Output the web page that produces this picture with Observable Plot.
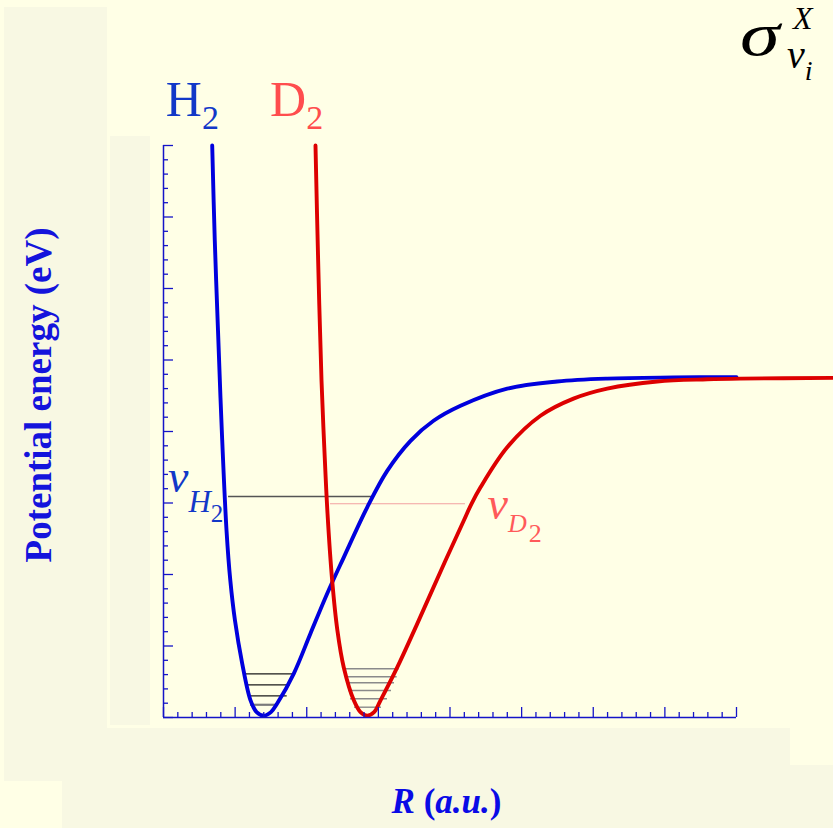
<!DOCTYPE html>
<html><head><meta charset="utf-8">
<script src="https://cdn.jsdelivr.net/npm/d3@7"></script>
<script src="https://cdn.jsdelivr.net/npm/@observablehq/plot@0.6"></script>
<style>
html,body{margin:0;padding:0;background:#FFFFE6;}
#wrap{position:relative;width:833px;height:828px;overflow:hidden;background:#FFFFE6;}
.panel{position:absolute;background:#F8F8E3;}
#chart{position:absolute;left:0;top:0;}
</style></head><body>
<div id="wrap">
<div class="panel" style="left:4px;top:7px;width:103px;height:774px"></div>
<div class="panel" style="left:110px;top:136px;width:40px;height:589px"></div>
<div class="panel" style="left:106px;top:728px;width:684px;height:37px"></div>
<div class="panel" style="left:62px;top:765px;width:771px;height:63px"></div>
<div id="chart"></div>
</div>
<script>
// H2 potential curve (R in a.u., E in eV)
const h2R = [0.680, 0.716, 0.761, 0.814, 0.880, 0.933, 0.998, 1.099, 1.215, 1.30, 1.40, 1.50, 1.587, 1.819, 2.052, 2.286, 2.517, 2.844, 3.123, 3.449, 3.770, 4.147, 4.799, 5.497, 6.195, 7.12, 8.0];
const h2E = [8.0, 6.671, 5.41, 4.014, 2.615, 1.916, 1.357, 0.755, 0.24, 0.075, 0.025, 0.075, 0.196, 0.615, 1.175, 1.734, 2.24, 2.94, 3.45, 3.87, 4.15, 4.36, 4.60, 4.70, 4.74, 4.755, 4.76];
// D2 potential curve
const d2R = [2.122, 2.159, 2.206, 2.245, 2.290, 2.355, 2.428, 2.517, 2.657, 2.75, 2.844, 2.94, 3.030, 3.263, 3.542, 3.937, 4.193, 4.300, 4.426, 4.799, 5.263, 5.724, 6.195, 6.893, 7.591, 8.056, 9.354];
const d2E = [8.0, 6.392, 4.713, 3.776, 2.853, 1.916, 1.217, 0.70, 0.24, 0.075, 0.025, 0.075, 0.24, 0.70, 1.31, 2.196, 2.755, 2.989, 3.22, 3.78, 4.22, 4.46, 4.60, 4.70, 4.73, 4.74, 4.75];
// vibrational levels
const h2LevelE  = [0.611, 0.457, 0.303, 0.178];
const h2LevelR1 = [1.135, 1.169, 1.191, 1.215];
const h2LevelR2 = [1.843, 1.773, 1.727, 1.587];
const d2LevelE  = [0.681, 0.569, 0.485, 0.378, 0.262, 0.144];
const d2LevelR1 = [2.541, 2.555, 2.569, 2.583, 2.611, 2.667];
const d2LevelR2 = [3.290, 3.262, 3.225, 3.183, 3.127, 3.044];
// highlighted levels v_H2 and v_D2
const vH2 = {E: 3.091, R1: 0.908, R2: 2.932};
const vD2 = {E: 2.989, R1: 2.332, R2: 4.216};
// axis ticks
const xMajor = [0, 1, 2, 3, 4, 5, 6, 7, 8];
const yMajor = [0, 1, 2, 3, 4, 5, 6, 7, 8];
const xMinor = xMajor.slice(0, -1).flatMap(v => [0.2, 0.4, 0.6, 0.8].map(f => v + f));
const yMinor = yMajor.slice(0, -1).flatMap(v => [0.2, 0.4, 0.6, 0.8].map(f => v + f));

const h2 = h2R.map((r, i) => ({R: r, E: h2E[i]}));
const d2 = d2R.map((r, i) => ({R: r, E: d2E[i]}));
const h2Lv = h2LevelE.map((e, i) => ({E: e, R1: h2LevelR1[i], R2: h2LevelR2[i], top: i < 3}));
const d2Lv = d2LevelE.map((e, i) => ({E: e, R1: d2LevelR1[i], R2: d2LevelR2[i]}));

const axisColor = "#1414c8";
const serif = "'Liberation Serif', 'Times New Roman', serif";

const chart = Plot.plot({
  width: 833, height: 828,
  marginLeft: 163, marginRight: 97, marginTop: 145, marginBottom: 111,
  style: {background: "transparent", fontFamily: serif},
  x: {domain: [0, 8]},
  y: {domain: [0, 8]},
  marks: [
    Plot.ruleY(h2Lv.filter(d => d.top), {y: "E", x1: "R1", x2: "R2", stroke: "#1a1a1a", strokeWidth: 1.3}),
    Plot.ruleY(h2Lv.filter(d => !d.top), {y: "E", x1: "R1", x2: "R2", stroke: "#7a7a7a", strokeWidth: 2.2}),
    Plot.ruleY(d2Lv, {y: "E", x1: "R1", x2: "R2", stroke: "#8a8a8a", strokeWidth: 1.4}),
    Plot.ruleY([vH2], {y: "E", x1: "R1", x2: "R2", stroke: "#555555", strokeWidth: 1.3}),
    Plot.ruleY([vD2], {y: "E", x1: "R1", x2: "R2", stroke: "#f2a0a0", strokeWidth: 1.1}),
    Plot.line(h2, {x: "R", y: "E", stroke: "#0000dd", strokeWidth: 3.9, curve: "catmull-rom"}),
    Plot.line(d2, {x: "R", y: "E", stroke: "#dd0000", strokeWidth: 3.9, curve: "catmull-rom"}),
    Plot.axisX(xMajor, {anchor: "bottom", tickSize: 10, dy: -10, stroke: axisColor, strokeWidth: 1.3, tickFormat: () => "", label: null}),
    Plot.axisX(xMinor, {anchor: "bottom", tickSize: 5, dy: -5, stroke: axisColor, strokeWidth: 1.3, tickFormat: () => "", label: null}),
    Plot.axisY(yMajor, {anchor: "left", tickSize: 10, dx: 10, stroke: axisColor, strokeWidth: 1.3, tickFormat: () => "", label: null}),
    Plot.axisY(yMinor, {anchor: "left", tickSize: 5, dx: 5, stroke: axisColor, strokeWidth: 1.3, tickFormat: () => "", label: null}),
    Plot.ruleY([0], {stroke: axisColor, strokeWidth: 1.5}),
    Plot.ruleX([0], {stroke: axisColor, strokeWidth: 1.5})
  ]
});

const svg = d3.select(chart);
const sx = chart.scale("x").apply, sy = chart.scale("y").apply;

function rich(x, y, parts, fill, anchor, extra) {
  const t = svg.append("text").attr("x", x).attr("y", y).attr("fill", fill)
    .attr("font-family", serif).attr("text-anchor", anchor || "start");
  if (extra) extra(t);
  parts.forEach(p => {
    t.append("tspan").text(p.text)
      .attr("font-size", p.size)
      .attr("font-style", p.italic ? "italic" : "normal")
      .attr("font-weight", p.bold ? "bold" : "normal")
      .attr("dx", p.dx || 0).attr("dy", p.dy || 0);
  });
  return t;
}

// curve labels
rich(sx(0.04), sy(8.40), [{text: "H", size: 50}, {text: "2", size: 34, dy: 13}], "#1238c8");
rich(sx(1.495), sy(8.40), [{text: "D", size: 50}, {text: "2", size: 34, dy: 13}], "#ff4d4d");
rich(sx(0.07), sy(3.147), [{text: "v", size: 46, italic: true}, {text: "H", size: 31, italic: true, dy: 19.7}, {text: "2", size: 25, dy: 10}], "#1238c8");
rich(sx(4.53), sy(2.775), [{text: "v", size: 46, italic: true}, {text: "D", size: 26, italic: true, dy: 13.4}, {text: "2", size: 26, dx: 2, dy: 10}], "#ff5a5a");

// sigma formula (top right of the slide)
rich(0, 0, [{text: "σ", size: 62, italic: true}], "#000000", "start",
  t => t.attr("transform", "translate(740,55) scale(1.3,1)"));
rich(793, 29, [{text: "X", size: 32, italic: true}], "#000000");
rich(787, 68, [{text: "v", size: 40, italic: true}, {text: "i", size: 28, italic: true, dy: 12}], "#000000");

// axis titles
rich(0, 0, [{text: "Potential energy (eV)", size: 37, bold: true}], "#1414dc", "middle",
  t => t.attr("transform", "translate(51,395) rotate(-90)"));
rich(446.5, 813, [
  {text: "R", size: 35, bold: true, italic: true},
  {text: " (", size: 35, bold: true},
  {text: "a.u.", size: 35, bold: true, italic: true},
  {text: ")", size: 35, bold: true}
], "#0a0ae6", "middle");

document.getElementById("chart").appendChild(chart);
</script>
</body></html>
